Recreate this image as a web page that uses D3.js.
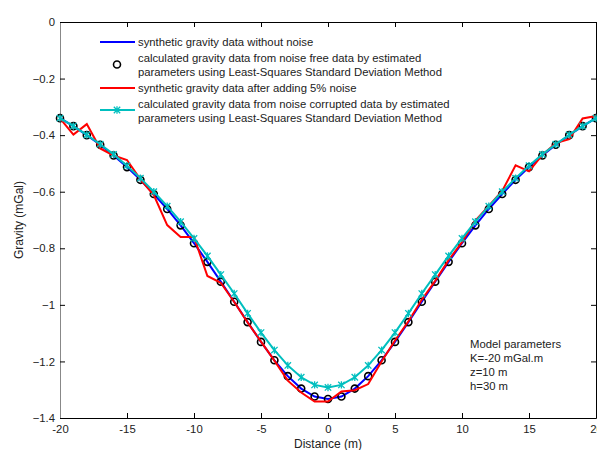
<!DOCTYPE html>
<html>
<head>
<meta charset="utf-8">
<script src="https://cdn.jsdelivr.net/npm/d3@7"></script>
<style>
  body { margin: 0; background: #fff; }
  svg { display: block; font-family: "Liberation Sans", Arial, sans-serif; }
</style>
</head>
<body>
<svg id="chart"></svg>
<script>
// distance (m)
const distance = [-20,-19,-18,-17,-16,-15,-14,-13,-12,-11,-10,-9,-8,-7,-6,-5,-4,-3,-2,-1,0,
  1,2,3,4,5,6,7,8,9,10,11,12,13,14,15,16,17,18,19,20];

// synthetic gravity data without noise
const gNoiseFree = [-0.340,-0.368,-0.400,-0.434,-0.472,-0.513,-0.558,-0.608,-0.661,-0.719,-0.782,
  -0.848,-0.918,-0.989,-1.061,-1.131,-1.196,-1.252,-1.296,-1.324,-1.333,
  -1.324,-1.296,-1.252,-1.196,-1.131,-1.061,-0.989,-0.918,-0.848,-0.782,
  -0.719,-0.661,-0.608,-0.558,-0.513,-0.472,-0.434,-0.400,-0.368,-0.340];

// calculated from noise free data (estimated parameters)
const gCalcFree = [-0.340,-0.368,-0.400,-0.434,-0.472,-0.513,-0.558,-0.608,-0.661,-0.719,-0.782,
  -0.848,-0.918,-0.989,-1.061,-1.131,-1.196,-1.252,-1.296,-1.324,-1.333,
  -1.324,-1.296,-1.252,-1.196,-1.131,-1.061,-0.989,-0.918,-0.848,-0.782,
  -0.719,-0.661,-0.608,-0.558,-0.513,-0.472,-0.434,-0.400,-0.368,-0.340];

// synthetic gravity data after adding 5% noise
const gNoisy = [-0.341,-0.398,-0.361,-0.447,-0.472,-0.488,-0.556,-0.612,-0.718,-0.760,-0.760,
  -0.898,-0.922,-0.990,-1.062,-1.130,-1.197,-1.268,-1.310,-1.342,-1.342,
  -1.306,-1.302,-1.280,-1.200,-1.126,-1.058,-0.982,-0.915,-0.842,-0.778,
  -0.702,-0.650,-0.597,-0.507,-0.528,-0.470,-0.428,-0.414,-0.341,-0.332];

// calculated from noise corrupted data (estimated parameters)
const gCalcNoisy = [-0.340,-0.368,-0.399,-0.432,-0.468,-0.508,-0.552,-0.600,-0.651,-0.706,-0.765,
  -0.827,-0.893,-0.960,-1.030,-1.098,-1.160,-1.214,-1.256,-1.283,-1.292,
  -1.283,-1.256,-1.214,-1.160,-1.098,-1.030,-0.960,-0.893,-0.827,-0.765,
  -0.706,-0.651,-0.600,-0.552,-0.508,-0.468,-0.432,-0.399,-0.368,-0.340];

const xTicks = [-20,-15,-10,-5,0,5,10,15,20];
const yTicks = [0,-0.2,-0.4,-0.6,-0.8,-1,-1.2,-1.4];

const legendLabels = [
  ["synthetic gravity data without noise"],
  ["calculated gravity data from noise free data by estimated", "parameters using Least-Squares Standard Deviation Method"],
  ["synthetic gravity data after adding 5% noise"],
  ["calculated gravity data from noise corrupted data by estimated", "parameters using Least-Squares Standard Deviation Method"]
];
const modelText = ["Model parameters", "K=-20 mGal.m", "z=10 m", "h=30 m"];

const W = 597, H = 450;
const margin = { top: 22, right: 1, bottom: 32, left: 60 };

const svg = d3.select('#chart').attr('width', W).attr('height', H);

const x_scale = d3.scaleLinear().domain([-20, 20]).range([margin.left, W - margin.right]);
const y_scale = d3.scaleLinear().domain([-1.4, 0]).range([H - margin.bottom, margin.top]);

const CYAN = '#00bfbf';

// axes
const fmt = d => d3.format('')(+d.toFixed(1));
svg.append('g').attr('class', 'x-axis')
  .attr('transform', `translate(0,${y_scale(-1.4)})`)
  .call(d3.axisBottom(x_scale).tickValues(xTicks).tickSizeInner(-5).tickSizeOuter(0).tickPadding(5).tickFormat(d => d));
svg.append('g').attr('class', 'x-axis-top')
  .attr('transform', `translate(0,${y_scale(0)})`)
  .call(d3.axisTop(x_scale).tickValues(xTicks).tickSizeInner(-5).tickSizeOuter(0).tickFormat(''));
svg.append('g').attr('class', 'y-axis')
  .attr('transform', `translate(${x_scale(-20)},0)`)
  .call(d3.axisLeft(y_scale).tickValues(yTicks).tickSizeInner(-5).tickSizeOuter(0).tickPadding(5).tickFormat(fmt));
svg.append('g').attr('class', 'y-axis-right')
  .attr('transform', `translate(${x_scale(20)},0)`)
  .call(d3.axisRight(y_scale).tickValues(yTicks).tickSizeInner(-5).tickSizeOuter(0).tickFormat(''));

svg.selectAll('.domain').attr('stroke', '#000');
svg.selectAll('.tick line').attr('stroke', '#000');
svg.select('.y-axis .domain').attr('stroke', '#888');
svg.selectAll('.tick text').attr('fill', '#222').style('font-size', '11.3px');
svg.select('.x-axis').selectAll('.tick text').attr('dy', '0.9em');

// axis labels
svg.append('text').attr('x', x_scale(0)).attr('y', 448)
  .attr('text-anchor', 'middle').style('font-size', '12px').attr('fill', '#222')
  .text('Distance (m)');
svg.append('text').attr('transform', `translate(23,${y_scale(-0.7)}) rotate(-90)`)
  .attr('text-anchor', 'middle').style('font-size', '12px').attr('fill', '#222')
  .text('Gravity (mGal)');

// series
const pts = arr => distance.map((d, i) => [d, arr[i]]);
const lineGen = d3.line().x(d => x_scale(d[0])).y(d => y_scale(d[1]));

svg.append('path').datum(pts(gNoiseFree))
  .attr('d', lineGen).attr('fill', 'none').attr('stroke', '#0000ff').attr('stroke-width', 2);

svg.selectAll('.circ').data(pts(gCalcFree)).join('circle').attr('class', 'circ')
  .attr('cx', d => x_scale(d[0])).attr('cy', d => y_scale(d[1])).attr('r', 3.5)
  .attr('fill', 'none').attr('stroke', '#000').attr('stroke-width', 1.6);

svg.append('path').datum(pts(gNoisy))
  .attr('d', lineGen).attr('fill', 'none').attr('stroke', '#ff0000').attr('stroke-width', 2);

svg.append('path').datum(pts(gCalcNoisy))
  .attr('d', lineGen).attr('fill', 'none').attr('stroke', CYAN).attr('stroke-width', 2);

const star = (g, cx, cy) => {
  const s = 3.2;
  g.append('path')
    .attr('d', `M${cx-s},${cy-s}L${cx+s},${cy+s}M${cx-s},${cy+s}L${cx+s},${cy-s}M${cx},${cy-s-0.5}L${cx},${cy+s+0.5}`)
    .attr('stroke', CYAN).attr('stroke-width', 1.3).attr('fill', 'none');
};
const starG = svg.append('g');
pts(gCalcNoisy).forEach(d => star(starG, x_scale(d[0]), y_scale(d[1])));

// legend
const lg = svg.append('g').attr('class', 'legend');
const textRows = [[42], [58, 72], [88], [104.5, 118.5]];
const lx0 = 100, lx1 = 135, tx = 138;
lg.append('line').attr('x1', lx0).attr('x2', lx1).attr('y1', 42).attr('y2', 42).attr('stroke', '#0000ff').attr('stroke-width', 2);
lg.append('circle').attr('cx', 117).attr('cy', 64.5).attr('r', 3.5).attr('fill', 'none').attr('stroke', '#000').attr('stroke-width', 1.6);
lg.append('line').attr('x1', lx0).attr('x2', lx1).attr('y1', 88).attr('y2', 88).attr('stroke', '#ff0000').attr('stroke-width', 2);
lg.append('line').attr('x1', lx0).attr('x2', lx1).attr('y1', 110).attr('y2', 110).attr('stroke', CYAN).attr('stroke-width', 2);
star(lg, 117, 110);
legendLabels.forEach((lines, i) => {
  lines.forEach((t, j) => {
    lg.append('text').attr('x', tx).attr('y', textRows[i][j]).attr('dy', '0.35em')
      .style('font-size', '11.3px').attr('fill', '#222').text(t);
  });
});

// model parameters
modelText.forEach((t, i) => {
  svg.append('text').attr('x', 470).attr('y', 344 + i * 14).attr('dy', '0.35em')
    .style('font-size', '11.3px').attr('fill', '#222').text(t);
});
</script>
</body>
</html>
